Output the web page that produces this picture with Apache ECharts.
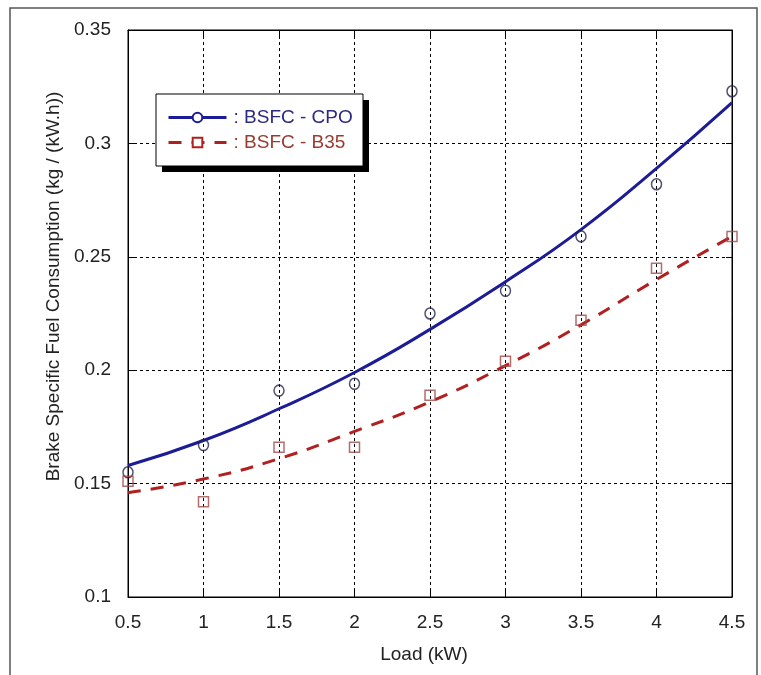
<!DOCTYPE html>
<html>
<head>
<meta charset="utf-8">
<script src="https://cdn.jsdelivr.net/npm/echarts@6/dist/echarts.min.js"></script>
<style>
  html, body { margin: 0; padding: 0; background: #fff; }
  #chart { width: 761px; height: 675px; }
</style>
</head>
<body>
<div id="chart"></div>
<script>
// load values (kW)
const loads = [0.5, 1, 1.5, 2, 2.5, 3, 3.5, 4, 4.5];

// measured BSFC points
const cpoPoints = [0.155, 0.167, 0.191, 0.194, 0.225, 0.235, 0.259, 0.282, 0.323];
const b35Points = [0.151, 0.142, 0.166, 0.166, 0.189, 0.204, 0.222, 0.245, 0.259];

// fitted curves
const cpoFit = [0.158, 0.169, 0.183, 0.199, 0.218, 0.239, 0.262, 0.289, 0.318];
const b35Fit = [0.146, 0.152, 0.161, 0.173, 0.186, 0.202, 0.220, 0.240, 0.259];

const cpoName = "BSFC - CPO";
const b35Name = "BSFC - B35";

function pairs(xs, ys) {
  return xs.map((x, i) => [x, ys[i]]);
}

const font = "Liberation Sans, Arial, sans-serif";

const chart = echarts.init(document.getElementById("chart"));

chart.setOption({
  animation: false,
  backgroundColor: "#fff",
  graphic: [
    {
      type: "rect",
      shape: { x: 10, y: 8, width: 747, height: 700 },
      style: { fill: "none", stroke: "#555", lineWidth: 1.5 },
      silent: true,
    },
    // legend box with its hard black shadow
    {
      type: "rect",
      z: 10,
      shape: { x: 162, y: 100, width: 207, height: 72 },
      style: { fill: "#000" },
      silent: true,
    },
    {
      type: "rect",
      z: 10,
      shape: { x: 156, y: 94, width: 207, height: 72 },
      style: { fill: "#fff", stroke: "#000", lineWidth: 1 },
      silent: true,
    },
  ],
  grid: {
    left: 128,
    right: 29,
    top: 30,
    bottom: 78,
    show: true,
    borderColor: "#000",
    borderWidth: 1,
  },
  legend: {
    left: 167,
    top: 108,
    z: 20,
    orient: "vertical",
    padding: 0,
    itemGap: 6,
    itemWidth: 58,
    itemHeight: 12,
    lineStyle: { width: 3 },
    formatter: ": {name}",
    textStyle: { fontFamily: font, fontSize: 19, padding: [0, 0, 0, 2] },
    data: [
      { name: cpoName, textStyle: { color: "#2a2a80" } },
      { name: b35Name, textStyle: { color: "#9a3a30" } },
    ],
  },
  xAxis: [
    {
      type: "value",
      min: 0.5,
      max: 4.5,
      interval: 0.5,
      name: "Load (kW)",
      nameLocation: "middle",
      nameGap: 48,
      nameTextStyle: { fontFamily: font, fontSize: 19, color: "#222", padding: [0, 12, 0, 0] },
      axisLine: { lineStyle: { color: "#000" } },
      axisTick: { inside: true, length: 6, lineStyle: { color: "#000" } },
      axisLabel: { fontFamily: font, fontSize: 19, color: "#222", margin: 16 },
      splitLine: { lineStyle: { color: "#000", type: [3, 3] } },
    },
    {
      type: "value",
      position: "top",
      min: 0.5,
      max: 4.5,
      interval: 0.5,
      axisLine: { lineStyle: { color: "#000" } },
      axisTick: { inside: true, length: 6, lineStyle: { color: "#000" } },
      axisLabel: { show: false },
      splitLine: { show: false },
    },
  ],
  yAxis: [
    {
      type: "value",
      min: 0.1,
      max: 0.35,
      interval: 0.05,
      name: "Brake Specific Fuel Consumption (kg / (kW.h))",
      nameLocation: "middle",
      nameGap: 63,
      nameTextStyle: { fontFamily: font, fontSize: 19, color: "#222", padding: [0, 0, 0, 54] },
      axisLine: { lineStyle: { color: "#000" } },
      axisTick: { inside: true, length: 6, lineStyle: { color: "#000" } },
      axisLabel: {
        fontFamily: font,
        fontSize: 19,
        color: "#222",
        margin: 17,
        formatter: (v) => String(Math.round(v * 100) / 100),
      },
      splitLine: { lineStyle: { color: "#000", type: [3, 3] } },
    },
    {
      type: "value",
      position: "right",
      min: 0.1,
      max: 0.35,
      interval: 0.05,
      axisLine: { lineStyle: { color: "#000" } },
      axisTick: { inside: true, length: 6, lineStyle: { color: "#000" } },
      axisLabel: { show: false },
      splitLine: { show: false },
    },
  ],
  series: [
    {
      name: cpoName,
      type: "line",
      smooth: true,
      symbol: "emptyCircle",
      symbolSize: 9,
      showSymbol: false,
      data: pairs(loads, cpoFit),
      lineStyle: { color: "#1c1c96", width: 3 },
      itemStyle: { color: "#1c1c96", borderColor: "#1c1c96" },
      z: 3,
    },
    {
      name: b35Name,
      type: "line",
      smooth: true,
      symbol: "emptyRect",
      symbolSize: 9,
      showSymbol: false,
      data: pairs(loads, b35Fit),
      lineStyle: { color: "#b02020", width: 3, type: [13, 10] },
      itemStyle: { color: "#b02020", borderColor: "#b02020" },
      z: 3,
    },
    {
      name: cpoName,
      type: "scatter",
      symbol: "circle",
      symbolSize: [10, 11],
      data: pairs(loads, cpoPoints),
      itemStyle: { color: "rgba(255,255,255,0)", borderColor: "#22224a", borderWidth: 1.5 },
      z: 4,
    },
    {
      name: b35Name,
      type: "scatter",
      symbol: "rect",
      symbolSize: 10,
      data: pairs(loads, b35Points),
      itemStyle: { color: "rgba(255,255,255,0)", borderColor: "#a04848", borderWidth: 1.5 },
      z: 4,
    },
  ],
});
</script>
</body>
</html>
